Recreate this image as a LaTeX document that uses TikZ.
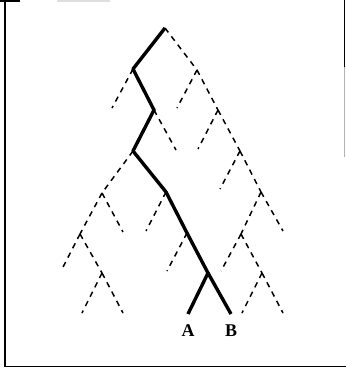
\documentclass[tikz,border=0pt]{standalone}
\usepackage{fontspec}
\setmainfont{Liberation Serif}
\begin{document}
\begin{tikzpicture}[x=1bp,y=-1bp,
  thickbranch/.style={line width=3.4bp, line cap=butt, line join=round},
  dashbranch/.style={line width=1.5bp, dash pattern=on 5.5bp off 5bp},
  frameline/.style={line width=1.4bp},
  leaflabel/.style={inner sep=0pt}]
\useasboundingbox (0,0) rectangle (346,371);
% frame (scanned, partly visible)
\draw[frameline] (5,0) -- (5,366.5) -- (346,366.5);
\draw[frameline] (344.5,0) -- (344.5,67);
\draw[frameline, gray!60] (344.5,67) -- (344.5,157);
\draw[frameline] (0,1) -- (20,1);
\draw[frameline, gray!25] (57,1) -- (110,1);
% node positions
\coordinate (R) at (165,28);
\coordinate (a) at (133,69);
\coordinate (b) at (197,70);
\coordinate (aL) at (112,108);
\coordinate (c) at (154,110);
\coordinate (bL) at (177,108);
\coordinate (d) at (218,110);
\coordinate (e) at (133,151);
\coordinate (cR) at (176,150);
\coordinate (dL) at (198,149);
\coordinate (f) at (240,151);
\coordinate (h) at (102,193);
\coordinate (g) at (166,192);
\coordinate (fL) at (220,189);
\coordinate (i) at (261,192);
\coordinate (j) at (80,234);
\coordinate (hR) at (123,232);
\coordinate (gL) at (146,231);
\coordinate (p) at (187,233);
\coordinate (k) at (241,234);
\coordinate (iR) at (283,231);
\coordinate (jL) at (61,271);
\coordinate (n) at (102,273);
\coordinate (pL) at (167,271);
\coordinate (m) at (208,273);
\coordinate (kL) at (221,271);
\coordinate (o) at (262,273);
\coordinate (nL) at (82,313);
\coordinate (nR) at (123,313);
\coordinate (Aend) at (188,314);
\coordinate (Bend) at (231,314);
\coordinate (oL) at (242,313);
\coordinate (oR) at (283,313);
% dashed branches
\draw[dashbranch] (R) -- (b);
\draw[dashbranch] (a) -- (aL);
\draw[dashbranch] (b) -- (bL);
\draw[dashbranch] (b) -- (d);
\draw[dashbranch] (c) -- (cR);
\draw[dashbranch] (d) -- (dL);
\draw[dashbranch] (d) -- (f);
\draw[dashbranch] (e) -- (h);
\draw[dashbranch] (f) -- (fL);
\draw[dashbranch] (f) -- (i);
\draw[dashbranch] (h) -- (hR);
\draw[dashbranch] (h) -- (j);
\draw[dashbranch] (g) -- (gL);
\draw[dashbranch] (i) -- (iR);
\draw[dashbranch] (i) -- (k);
\draw[dashbranch] (j) -- (jL);
\draw[dashbranch] (j) -- (n);
\draw[dashbranch] (p) -- (pL);
\draw[dashbranch] (k) -- (kL);
\draw[dashbranch] (k) -- (o);
\draw[dashbranch] (n) -- (nL);
\draw[dashbranch] (n) -- (nR);
\draw[dashbranch] (o) -- (oL);
\draw[dashbranch] (o) -- (oR);
% thick lineage
\draw[thickbranch] (R) -- (a) -- (c) -- (e) -- (g) -- (p) -- (m) -- (Aend);
\draw[thickbranch] (m) -- (Bend);
% labels
\node[leaflabel] (A) at (188,331) {\fontsize{18}{18}\selectfont\bfseries A};
\node[leaflabel] (B) at (231,331) {\fontsize{18}{18}\selectfont\bfseries B};
\end{tikzpicture}
\end{document}
